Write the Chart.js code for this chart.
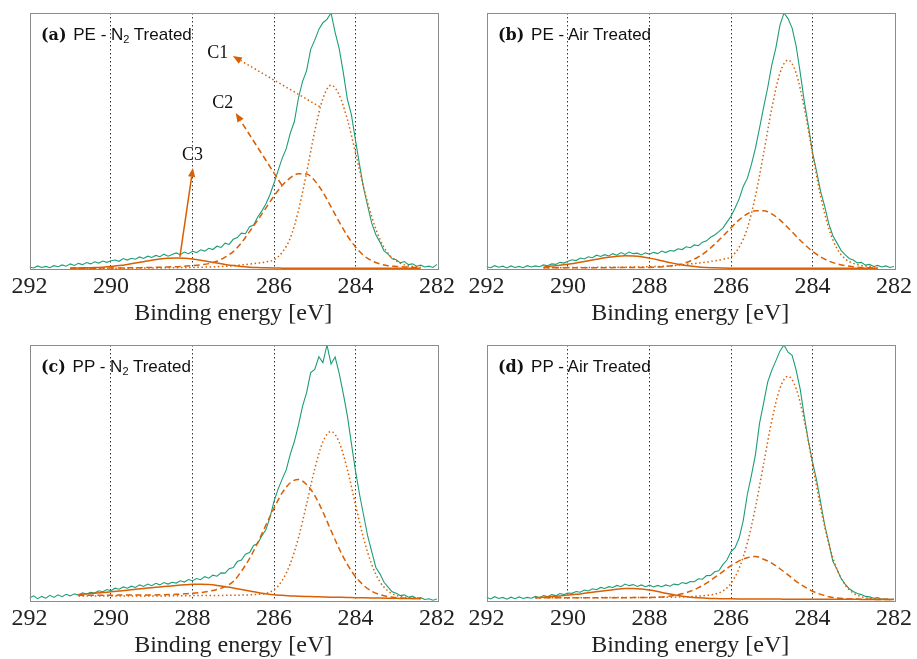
<!DOCTYPE html>
<html><head><meta charset="utf-8">
<script src="https://cdn.jsdelivr.net/npm/chart.js@4"></script>
<style>
html,body{margin:0;padding:0;background:#fff;}
body{width:917px;height:659px;overflow:hidden;position:relative;}
.panel{position:absolute;width:458px;height:340px;}
.panel canvas{position:absolute;left:0;top:0;}
.lab{position:absolute;white-space:nowrap;color:#111;font-family:"Liberation Sans",Arial,sans-serif;font-size:17px;line-height:20px;}
.lab b{font-family:"DejaVu Serif",serif;font-weight:bold;font-size:16px;margin-right:2px;}
.lab sub{font-size:11px;vertical-align:-3px;line-height:0;}
</style></head><body>
<div class="panel" style="left:0;top:0"><canvas id="ca" width="458" height="340"></canvas></div>
<div class="panel" style="left:457px;top:0"><canvas id="cb" width="458" height="340"></canvas></div>
<div class="panel" style="left:0;top:332px"><canvas id="cc" width="458" height="340"></canvas></div>
<div class="panel" style="left:457px;top:332px"><canvas id="cd" width="458" height="340"></canvas></div>
<div class="lab" style="left:41px;top:25px"><b>(a)</b> PE - N<sub>2</sub> Treated</div>
<div class="lab" style="left:498px;top:25px"><b>(b)</b> PE - Air Treated</div>
<div class="lab" style="left:41px;top:357px"><b>(c)</b> PP - N<sub>2</sub> Treated</div>
<div class="lab" style="left:498px;top:357px"><b>(d)</b> PP - Air Treated</div>
<script>
// Binding-energy sample positions of the measured spectra (eV)
const GREEN_E = [292.0,291.9,291.8,291.7,291.6,291.5,291.4,291.3,291.2,291.1,
291.0,290.9,290.8,290.7,290.6,290.5,290.4,290.3,290.2,290.1,
290.0,289.9,289.8,289.7,289.6,289.5,289.4,289.3,289.2,289.1,
289.0,288.9,288.8,288.7,288.6,288.5,288.4,288.3,288.2,288.1,
288.0,287.9,287.8,287.7,287.6,287.5,287.4,287.3,287.2,287.1,
287.0,286.9,286.8,286.7,286.6,286.5,286.4,286.3,286.2,286.1,
286.0,285.9,285.8,285.7,285.6,285.5,285.4,285.3,285.2,285.1,
285.0,284.9,284.8,284.7,284.6,284.5,284.4,284.3,284.2,284.1,
284.0,283.9,283.8,283.7,283.6,283.5,283.4,283.3,283.2,283.1,
283.0,282.9,282.8,282.7,282.6,282.5,282.4,282.3,282.2,282.1,
282.0];
// Fit-component sample positions (eV)
const FIT_E = [291.0,290.8,290.6,290.4,290.2,290.0,289.8,289.6,289.4,289.2,
289.0,288.8,288.6,288.4,288.2,288.0,287.8,287.6,287.4,287.2,
287.0,286.8,286.6,286.4,286.2,286.0,285.8,285.6,285.4,285.2,
285.0,284.8,284.6,284.4,284.2,284.0,283.8,283.6,283.4,283.2,
283.0,282.8,282.6,282.4,282.2,282.0];
const X_TICKS = [292,290,288,286,284,282];
const X_TITLE = 'Binding energy [eV]';

// (a) PE - N2 treated
const GREEN_A = [0.8,0.4,1.2,0.6,1.0,0.5,1.3,0.9,1.6,1.1,
2.0,1.4,2.2,1.7,2.5,2.0,2.8,2.3,3.1,2.6,
3.2,3.5,3.0,4.1,3.5,4.2,3.8,4.7,4.1,5.0,
4.5,5.3,4.8,5.8,5.0,5.7,6.3,5.6,6.6,6.0,
6.9,6.4,7.5,7.0,8.1,7.6,8.9,8.4,10.1,9.6,
11.6,12.3,14.0,13.8,16.5,17.2,20.3,22.6,25.4,29.0,
33.5,38.4,43.2,47.0,53.1,57.6,66.8,73.2,77.5,85.8,
89.4,93.6,96.2,97.5,100.0,92.4,86.1,76.8,66.4,60.2,
50.3,40.7,31.5,24.6,17.8,13.4,10.5,7.1,5.8,4.0,
3.6,2.4,2.9,1.7,2.0,1.1,1.5,0.8,1.1,0.6,
1.8];
const A_C1 = [0.3,0.3,0.3,0.3,0.3,0.3,0.32,0.34,0.36,0.38,
0.4,0.43,0.46,0.5,0.55,0.6,0.7,0.8,0.9,1.1,
1.3,1.6,1.9,2.3,2.8,3.6,6.5,12.1,22.9,37.7,
53.8,66.6,71.8,68.0,58.4,45.5,31.9,20.3,11.6,6.1,
3.2,1.6,1.0,0.7,null,null];
const A_C2 = [0.3,0.3,0.32,0.34,0.36,0.4,0.42,0.45,0.5,0.55,
0.6,0.7,0.8,0.9,1.1,1.3,1.6,2.1,3.0,4.6,
6.8,10.2,14.6,19.1,23.8,28.5,32.6,35.6,37.2,37.1,
34.5,30.0,24.3,18.4,13.0,8.6,5.3,3.2,2.0,1.3,
1.0,0.8,0.6,0.5,null,null];
const A_C3 = [0.34,0.37,0.44,0.55,0.73,0.98,1.33,1.78,2.3,2.87,
3.42,3.88,4.19,4.3,4.19,3.88,3.42,2.87,2.3,1.78,
1.33,0.98,0.73,0.55,0.44,0.37,0.34,0.32,0.3,0.3,
0.3,0.3,0.3,0.3,0.3,0.3,0.3,0.3,0.3,0.3,
0.3,0.3,0.3,0.3,null,null];

// (b) PE - Air treated
const GREEN_B = [0.9,0.5,1.3,0.7,1.1,0.4,1.2,0.6,1.0,0.5,
1.3,0.8,1.2,0.9,1.6,1.3,2.0,1.8,2.6,2.3,
3.0,3.6,3.3,4.3,3.9,4.8,4.4,5.4,4.9,5.6,
5.1,6.0,5.4,6.4,5.7,6.6,6.0,6.2,5.5,6.3,
5.8,6.5,6.0,7.0,6.4,7.2,7.0,7.9,7.6,8.7,
8.3,9.4,9.1,10.5,11.0,12.4,13.3,14.6,16.0,18.3,
20.6,23.8,27.4,32.2,35.4,40.8,47.2,55.0,63.1,70.8,
79.6,86.3,95.2,100.0,97.8,94.1,87.0,76.5,65.3,55.8,
45.6,38.1,30.2,24.5,17.6,13.0,10.2,7.3,5.6,4.1,
3.5,2.4,2.6,1.5,1.8,1.0,1.4,0.8,1.2,0.6,
1.0];
const B_C1 = [null,null,0.5,0.5,0.52,0.55,0.58,0.6,0.62,0.65,
0.68,0.7,0.72,0.75,0.8,0.9,1.0,1.1,1.3,1.6,
2.0,2.3,2.7,3.2,3.8,4.8,8.5,15.9,28.5,45.1,
62.7,76.4,81.6,76.4,62.7,45.1,28.5,15.9,8.0,4.0,
2.2,1.4,1.0,0.8,null,null];
const B_C2 = [null,null,0.5,0.5,0.5,0.5,0.5,0.5,0.5,0.52,
0.53,0.54,0.55,0.57,0.58,0.6,0.75,1.0,1.4,2.0,
3.1,4.7,6.9,9.7,12.8,16.1,19.2,21.5,22.8,22.8,
21.5,19.2,16.1,12.8,9.7,6.9,4.7,3.1,2.0,1.3,
0.9,0.6,0.45,0.4,null,null];
const B_C3 = [null,null,0.75,1.14,1.45,1.85,2.3,2.9,3.5,4.1,
4.6,5.0,5.2,5.1,4.8,4.25,3.6,2.85,2.2,1.6,
1.15,0.8,0.6,0.45,0.38,0.34,0.32,0.31,0.3,0.3,
0.3,0.3,0.3,0.3,0.3,0.3,0.3,0.3,0.3,0.3,
0.3,0.3,0.3,0.3,null,null];

// (c) PP - N2 treated
const GREEN_C = [1.2,2.0,0.9,1.8,1.1,2.2,1.4,2.4,1.7,2.6,
2.0,2.8,2.3,3.2,2.7,3.4,3.1,4.0,3.6,4.5,
4.0,5.0,4.6,5.5,5.0,5.8,5.3,6.3,5.7,6.6,
6.0,6.9,6.3,7.2,6.6,7.3,7.0,7.9,7.4,8.4,
7.9,8.8,8.3,9.5,8.9,10.1,9.7,11.0,10.9,12.6,
13.1,15.4,16.0,18.3,18.9,21.7,22.5,25.4,27.8,32.6,
38.9,43.7,47.6,51.2,57.4,62.3,68.7,76.0,81.4,89.2,
90.5,95.4,93.1,100.0,92.6,95.3,88.9,81.0,72.4,61.5,
50.8,41.6,33.4,25.3,19.2,13.1,10.6,7.3,5.4,3.6,
3.0,2.1,2.4,1.5,1.9,1.0,1.3,0.6,0.9,0.3,
0.8];
const C_C1 = [null,2.0,2.0,2.0,2.0,2.0,2.0,2.0,2.0,2.0,
2.0,2.0,2.0,2.05,2.05,2.1,2.1,2.15,2.15,2.2,
2.2,2.3,2.4,2.6,3.0,4.4,8.0,14.6,24.7,37.9,
51.6,62.2,66.2,62.0,51.4,37.6,24.4,14.2,7.5,3.9,
2.2,1.5,1.2,1.1,null,null];
const C_C2 = [null,2.2,2.2,2.2,2.25,2.25,2.3,2.3,2.3,2.3,
2.35,2.4,2.5,2.6,2.8,3.0,3.3,3.8,4.5,5.6,
7.6,11.6,16.6,22.8,29.6,36.3,42.2,46.2,47.5,45.5,
41.2,34.8,27.5,20.4,14.3,9.5,6.1,3.8,2.5,1.7,
1.3,1.1,1.0,0.95,null,null];
const C_C3 = [null,2.5,2.8,3.0,3.3,3.6,3.9,4.2,4.6,4.9,
5.2,5.5,5.8,6.1,6.3,6.5,6.55,6.4,6.1,5.6,
5.1,4.5,3.9,3.3,2.8,2.4,2.2,2.0,1.9,1.8,
1.7,1.6,1.5,1.45,1.4,1.3,1.25,1.2,1.15,1.1,
1.05,1.0,0.95,0.9,null,null];

// (d) PP - Air treated
const GREEN_D = [1.5,0.8,1.7,1.0,1.4,0.7,1.5,0.9,1.6,1.0,
1.4,1.1,1.8,1.3,2.1,1.7,2.5,2.1,2.9,2.5,
3.1,3.0,3.7,3.4,4.3,3.9,4.8,4.4,5.3,4.9,
5.6,5.3,6.1,5.6,6.6,6.0,6.4,5.7,6.3,5.6,
6.2,5.5,6.1,5.6,6.3,5.8,6.6,6.3,7.2,6.8,
7.6,7.5,8.7,8.5,9.9,10.0,11.4,11.8,14.2,16.0,
19.3,20.8,24.6,31.4,41.5,49.0,57.2,69.4,77.3,85.5,
90.1,93.8,97.6,100.0,97.2,96.0,90.1,82.6,72.0,62.4,
54.3,47.2,38.5,29.6,22.8,15.5,12.4,8.9,6.6,4.8,
3.7,2.9,2.5,1.8,1.6,1.1,1.3,0.7,0.9,0.5,
0.8];
const D_C1 = [null,1.3,1.3,1.3,1.3,1.3,1.3,1.3,1.3,1.32,
1.34,1.36,1.38,1.4,1.4,1.4,1.42,1.45,1.5,1.6,
1.7,1.9,2.2,2.7,3.9,6.9,12.8,22.6,36.6,53.5,
70.4,83.0,87.8,82.9,70.3,53.4,36.4,22.3,12.4,6.3,
3.1,1.7,1.0,0.8,0.7,0.6];
const D_C2 = [null,1.3,1.3,1.3,1.3,1.3,1.3,1.3,1.3,1.3,
1.3,1.3,1.3,1.32,1.35,1.4,1.5,1.7,2.15,2.8,
3.8,5.2,7.0,9.2,11.5,13.8,15.7,16.9,17.4,16.3,
14.8,12.6,10.2,7.7,5.6,3.8,2.6,1.7,1.2,0.95,
0.8,0.7,0.65,0.6,0.6,0.6];
const D_C3 = [null,1.3,1.5,1.75,2.0,2.3,2.6,3.0,3.4,3.8,
4.2,4.6,4.85,4.9,4.7,4.3,3.7,3.0,2.4,1.9,
1.5,1.25,1.05,0.95,0.9,0.85,0.82,0.8,0.79,0.77,
0.75,0.74,0.72,0.71,0.7,0.7,0.69,0.68,0.66,0.65,
0.64,0.63,0.62,0.61,0.6,0.6];

// Annotations of panel (a), in data coordinates (eV, intensity)
const ANN_LABELS = ['C1','C2','C3'];
const ANN_TEXT_E = [287.38, 287.26, 288.0];
const ANN_TEXT_V = [84.4, 64.8, 44.5];
const ANN_TAIL_E = [284.88, 285.81, 288.31];
const ANN_TAIL_V = [63.4, 32.8, 4.7];
const ANN_HEAD_E = [287.01, 286.94, 287.99];
const ANN_HEAD_V = [83.2, 60.9, 39.5];

const GREEN = '#1b9e77', ORANGE = '#d95f02';
const DOT = [1.5, 2.6], DASH = [6, 3.5];
const STYLES = [DOT, DASH, []];

const framePlugin = {
  id: 'frame',
  afterDraw(chart) {
    const a = chart.chartArea, ctx = chart.ctx;
    ctx.save();
    ctx.strokeStyle = '#8c8c8c';
    ctx.lineWidth = 1;
    ctx.setLineDash([]);
    ctx.strokeRect(Math.round(a.left) + 0.5, Math.round(a.top) + 0.5,
                   Math.round(a.right - a.left), Math.round(a.bottom - a.top));
    ctx.restore();
  }
};

function annPlugin() {
  return {
    id: 'ann',
    afterDatasetsDraw(chart) {
      const ctx = chart.ctx, xs = chart.scales.x, ys = chart.scales.y;
      ctx.save();
      for (let i = 0; i < ANN_LABELS.length; i++) {
        const x0 = xs.getPixelForValue(ANN_TAIL_E[i]), y0 = ys.getPixelForValue(ANN_TAIL_V[i]);
        const x1 = xs.getPixelForValue(ANN_HEAD_E[i]), y1 = ys.getPixelForValue(ANN_HEAD_V[i]);
        const ang = Math.atan2(y1 - y0, x1 - x0);
        const L = 9, W = 3.6;
        const bx = x1 - L * Math.cos(ang), by = y1 - L * Math.sin(ang);
        ctx.strokeStyle = ORANGE; ctx.fillStyle = ORANGE;
        ctx.lineWidth = 1.5;
        ctx.setLineDash(STYLES[i]);
        ctx.beginPath(); ctx.moveTo(x0, y0); ctx.lineTo(bx, by); ctx.stroke();
        ctx.setLineDash([]);
        ctx.beginPath();
        ctx.moveTo(x1, y1);
        ctx.lineTo(bx + W * Math.sin(ang), by - W * Math.cos(ang));
        ctx.lineTo(bx - W * Math.sin(ang), by + W * Math.cos(ang));
        ctx.closePath(); ctx.fill();
        ctx.fillStyle = '#111';
        ctx.font = '18px "Liberation Serif", serif';
        ctx.textAlign = 'center'; ctx.textBaseline = 'middle';
        ctx.fillText(ANN_LABELS[i], xs.getPixelForValue(ANN_TEXT_E[i]), ys.getPixelForValue(ANN_TEXT_V[i]));
      }
      ctx.restore();
    }
  };
}

function pts(xs, ys) {
  const out = [];
  for (let i = 0; i < xs.length; i++) if (ys[i] !== null) out.push({x: xs[i], y: ys[i]});
  return out;
}

function makeChart(id, green, c1, c2, c3, withAnn) {
  const plugins = [framePlugin];
  if (withAnn) plugins.push(annPlugin());
  new Chart(document.getElementById(id), {
    type: 'line',
    data: {datasets: [
      {data: pts(GREEN_E, green), borderColor: GREEN, borderWidth: 1.1, pointRadius: 0, tension: 0, order: 10},
      {data: pts(FIT_E, c1), borderColor: ORANGE, borderWidth: 1.5, borderDash: DOT, pointRadius: 0, cubicInterpolationMode: 'monotone', order: 3},
      {data: pts(FIT_E, c2), borderColor: ORANGE, borderWidth: 1.5, borderDash: DASH, pointRadius: 0, cubicInterpolationMode: 'monotone', order: 2},
      {data: pts(FIT_E, c3), borderColor: ORANGE, borderWidth: 1.5, pointRadius: 0, cubicInterpolationMode: 'monotone', order: 1}
    ]},
    options: {
      responsive: false, animation: false, devicePixelRatio: 1,
      layout: {padding: {left: 29.5, right: 20.4, top: 13, bottom: 0}},
      plugins: {legend: {display: false}, tooltip: {enabled: false}},
      scales: {
        x: {
          type: 'linear', reverse: true, min: 282, max: 292,
          afterBuildTicks: s => { s.ticks = X_TICKS.map(v => ({value: v})); },
          ticks: {font: {family: 'Liberation Serif', size: 24}, color: '#222', padding: 3, maxRotation: 0, autoSkip: false},
          grid: {drawTicks: false, lineWidth: 1,
                 color: c => (c.tick && (c.tick.value === 292 || c.tick.value === 282)) ? 'rgba(0,0,0,0)' : '#333'},
          border: {display: false, dash: [1.5, 2.5]},
          title: {display: true, text: X_TITLE, font: {family: 'Liberation Serif', size: 24}, color: '#222', padding: {top: 0, bottom: 11.6}},
          afterFit: s => { s.height = 71; }
        },
        y: {display: false, min: 0, max: 100}
      }
    },
    plugins: plugins
  });
}

makeChart('ca', GREEN_A, A_C1, A_C2, A_C3, true);
makeChart('cb', GREEN_B, B_C1, B_C2, B_C3, false);
makeChart('cc', GREEN_C, C_C1, C_C2, C_C3, false);
makeChart('cd', GREEN_D, D_C1, D_C2, D_C3, false);
</script>
</body></html>
